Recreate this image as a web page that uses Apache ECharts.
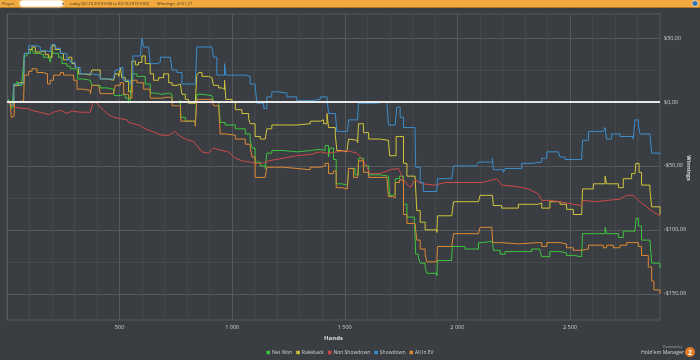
<!DOCTYPE html>
<html>
<head>
<meta charset="utf-8">
<script src="https://cdn.jsdelivr.net/npm/echarts@6/dist/echarts.min.js"></script>
<style>html,body{margin:0;padding:0;background:#3a3d42;}#c{width:700px;height:360px;}</style>
</head>
<body>
<div id="c"></div>
<script>
const seriesNames = ['Net Won', 'Rakeback', 'Non Showdown', 'Showdown', 'All In EV'];
const xTickValues = [500, 1000, 1500, 2000, 2500];
const yLabelValues = [-150, -100, -50, 0, 50];
const yGridValues = [-150, -125, -100, -75, -50, -25, 0, 25, 50];

const netWon = [[0,0],[7,2],[15,-3],[22,-5],[26,3],[30,14],[44,16],[52,13],[66,16],[74,15],[77,36],[89,38],[104,40],[111,42],[118,38],[140,37],[163,35],[185,34],[192,31],[200,40],[207,38],[229,35],[244,30],[266,28],[281,26],[303,25],[314,18],[340,17],[370,16],[377,13],[414,11],[444,10],[473,10],[476,5],[503,6],[525,3],[540,-1],[547,1],[555,22],[577,20],[599,20],[614,14],[636,7],[658,6],[688,7],[718,6],[733,0],[755,1],[770,1],[772,-12],[792,-15],[821,-15],[836,-17],[843,6],[866,5],[910,4],[917,0],[940,-1],[947,-16],[969,-18],[1014,-21],[1058,-25],[1080,-30],[1088,-36],[1102,-47],[1125,-50],[1147,-52],[1154,-40],[1176,-38],[1228,-39],[1287,-38],[1347,-37],[1391,-38],[1413,-34],[1428,-43],[1435,-36],[1450,-45],[1462,-64],[1487,-65],[1512,-66],[1517,-52],[1546,-57],[1561,-44],[1583,-50],[1606,-57],[1657,-58],[1694,-59],[1699,-73],[1714,-72],[1724,-60],[1743,-58],[1761,-80],[1776,-90],[1809,-91],[1815,-119],[1827,-122],[1835,-126],[1857,-129],[1864,-134],[1909,-136],[1912,-124],[1946,-124],[1975,-122],[1978,-113],[2034,-115],[2094,-110],[2108,-109],[2156,-109],[2160,-116],[2190,-119],[2212,-117],[2271,-117],[2330,-115],[2367,-117],[2375,-121],[2411,-117],[2456,-118],[2485,-120],[2515,-121],[2552,-121],[2556,-103],[2604,-103],[2656,-98],[2663,-103],[2715,-106],[2737,-101],[2789,-101],[2793,-91],[2804,-97],[2818,-108],[2855,-108],[2863,-126],[2900,-130]];

const rakeback = [[0,0],[15,-2],[22,-3],[30,13],[52,15],[74,17],[77,38],[96,41],[111,43],[126,39],[148,40],[170,37],[185,35],[192,35],[200,44],[214,41],[237,38],[251,33],[274,35],[288,30],[303,27],[318,22],[340,21],[370,22],[377,25],[399,25],[414,18],[444,17],[473,17],[481,22],[496,20],[503,27],[510,19],[525,16],[540,8],[547,8],[555,32],[570,29],[584,31],[599,36],[614,30],[636,22],[651,17],[673,19],[695,22],[718,15],[733,13],[755,14],[770,14],[777,6],[792,2],[806,-1],[821,-1],[836,-2],[843,21],[851,23],[866,20],[895,19],[910,20],[917,13],[940,11],[955,10],[966,17],[972,2],[999,0],[1014,-6],[1043,-9],[1073,-13],[1080,-17],[1102,-27],[1125,-29],[1147,-30],[1154,-21],[1176,-18],[1228,-18],[1287,-17],[1347,-15],[1391,-14],[1406,-17],[1421,-9],[1428,-20],[1443,-20],[1458,-26],[1465,-38],[1487,-39],[1509,-38],[1517,-29],[1524,-30],[1557,-32],[1561,-17],[1583,-24],[1606,-29],[1657,-30],[1694,-31],[1699,-42],[1714,-42],[1728,-27],[1743,-27],[1761,-48],[1776,-58],[1812,-59],[1820,-85],[1835,-94],[1857,-100],[1909,-102],[1912,-89],[1975,-89],[1983,-78],[2094,-78],[2101,-73],[2156,-72],[2160,-81],[2197,-83],[2271,-80],[2360,-79],[2375,-83],[2411,-78],[2456,-80],[2485,-84],[2515,-88],[2552,-89],[2556,-68],[2604,-64],[2656,-58],[2663,-64],[2715,-67],[2737,-60],[2774,-56],[2789,-57],[2793,-48],[2807,-55],[2818,-65],[2855,-68],[2863,-82],[2900,-88]];

const nonShowdown = [[0,0],[37,-4],[59,-5],[89,-5],[118,-7],[148,-8],[185,-10],[207,-8],[237,-6.5],[266,-9],[288,-7],[325,-8],[370,-8],[382,0],[399,-1],[414,-4],[444,-9],[473,-12],[503,-13],[533,-14],[540,-16],[562,-17],[584,-18],[614,-21],[644,-23],[688,-26],[718,-26],[747,-23],[762,-26],[792,-29],[829,-31],[843,-34],[866,-39],[895,-40],[917,-36],[955,-38],[984,-39],[1014,-44],[1043,-46],[1080,-47],[1102,-48],[1132,-48],[1162,-46],[1228,-44],[1287,-42],[1347,-41],[1391,-39],[1421,-40],[1465,-39],[1509,-38],[1554,-40],[1583,-46],[1613,-56],[1657,-56],[1702,-53],[1739,-52],[1761,-61],[1791,-67],[1798,-68],[1812,-61],[1842,-64],[1901,-65],[1946,-63],[2034,-63],[2108,-63],[2175,-60],[2197,-65],[2256,-66],[2316,-68],[2360,-72],[2375,-77],[2411,-77],[2456,-78],[2515,-80],[2552,-81],[2559,-77],[2619,-78],[2663,-77],[2722,-76],[2752,-73],[2781,-73],[2811,-78],[2841,-82],[2870,-86],[2900,-89]];

const showdown = [[0,0],[15,-2],[30,14],[74,16],[77,38],[96,44],[133,43],[148,40],[177,39],[192,42],[200,45],[214,42],[237,38],[266,33],[281,31],[303,27],[325,22],[370,21],[414,18],[473,18],[481,25],[500,27],[515,17],[547,14],[559,36],[592,37],[599,50],[607,43],[629,43],[636,30],[666,31],[681,35],[725,35],[733,25],[755,23],[777,14],[836,14],[843,43],[910,43],[917,35],[932,21],[957,21],[966,30],[972,21],[1043,21],[1058,20],[1080,14],[1102,12],[1110,-1],[1140,-5],[1154,4],[1176,8],[1199,7],[1243,4],[1287,1],[1347,2],[1391,4],[1421,5],[1428,-9],[1458,-8],[1465,-23],[1512,-23],[1517,-14],[1557,-14],[1561,-1],[1613,-1],[1635,0],[1687,-1],[1694,-18],[1724,-17],[1731,-4],[1746,-12],[1761,-20],[1812,-22],[1815,-51],[1835,-63],[1849,-70],[1909,-70],[1912,-60],[1975,-60],[1983,-50],[2086,-51],[2094,-47],[2156,-44],[2160,-53],[2205,-55],[2212,-52],[2286,-48],[2330,-47],[2375,-44],[2397,-39],[2448,-39],[2456,-43],[2478,-45],[2552,-46],[2556,-30],[2582,-23],[2648,-22],[2656,-20],[2663,-29],[2685,-25],[2722,-27],[2781,-29],[2789,-14],[2804,-18],[2811,-25],[2855,-26],[2863,-40],[2900,-41]];

const allInEV = [[0,0],[15,-3],[19,-12],[26,-11],[32,0],[52,1],[74,3],[77,21],[96,24],[111,26],[133,23],[163,22],[180,14],[192,17],[207,21],[237,23],[251,21],[281,21],[296,17],[311,10],[340,9],[370,6.5],[377,13],[407,12],[414,6.5],[473,6],[481,13],[503,15],[518,6],[540,3],[555,17],[577,15],[584,15],[607,10],[636,3],[688,4],[718,3],[733,-3],[770,-2],[772,-15],[836,-19],[843,2],[910,1],[917,-3],[940,-5],[947,-25],[969,-26],[1014,-29],[1058,-33],[1080,-35],[1088,-43],[1102,-59],[1147,-60],[1154,-51],[1228,-52],[1287,-53],[1347,-51],[1391,-50],[1413,-48],[1428,-56],[1450,-54],[1462,-67],[1487,-68],[1512,-69],[1517,-52],[1539,-59],[1557,-59],[1561,-46],[1583,-55],[1606,-59],[1687,-60],[1694,-74],[1714,-75],[1724,-63],[1743,-61],[1761,-88],[1776,-95],[1812,-96],[1820,-108],[1835,-115],[1857,-119],[1864,-125],[1909,-125],[1912,-113],[1975,-113],[1983,-103],[2094,-103],[2101,-98],[2153,-98],[2157,-110],[2197,-111],[2271,-110],[2360,-110],[2375,-113],[2397,-110],[2456,-111],[2485,-114],[2515,-116],[2552,-117],[2556,-115],[2582,-112],[2648,-114],[2663,-112],[2693,-114],[2722,-112],[2752,-110],[2781,-110],[2804,-113],[2818,-120],[2848,-129],[2863,-140],[2873,-147],[2900,-150]];

const seriesData = [netWon, rakeback, nonShowdown, showdown, allInEV];
const colors = ['#3cc63c', '#d2c63c', '#cc4a4a', '#3a8ecc', '#de8a34'];
const stepped = [true, true, false, true, true];

function fmtHands(v) {
  return String(v).replace(/\B(?=(\d{3})+(?!\d))/g, ' ');
}
function fmtMoney(v) {
  return (v < 0 ? '-$' : '$') + Math.abs(v) + ',00';
}

const chart = echarts.init(document.getElementById('c'));
const font = 'Open Sans, DejaVu Sans, sans-serif';

const series = seriesNames.map((name, i) => {
  const s = {
    name: name,
    type: 'line',
    data: seriesData[i],
    showSymbol: false,
    symbol: 'none',
    step: stepped[i] ? 'end' : false,
    lineStyle: { width: 1, color: colors[i] },
    itemStyle: { color: colors[i] },
    z: 3,
    animation: false
  };
  if (i === 0) {
    s.markLine = {
      silent: true,
      symbol: 'none',
      label: { show: false },
      lineStyle: { color: '#e8e8e8', width: 2, type: 'solid' },
      data: [{ yAxis: 0 }],
      animation: false
    };
  }
  return s;
});

chart.setOption({
  backgroundColor: '#3a3d42',
  animation: false,
  color: colors,
  grid: {
    left: 7, right: 40, top: 14, bottom: 40,
    outerBoundsMode: 'none',
    containLabel: false,
    show: true, borderColor: '#56595e', borderWidth: 1, backgroundColor: 'transparent'
  },
  xAxis: {
    type: 'value',
    min: 0, max: 2900, interval: 100,
    name: 'Hands',
    nameLocation: 'middle',
    nameGap: 15,
    nameTextStyle: { color: '#dcdcdc', fontSize: 6, fontWeight: 'bold', fontFamily: font },
    axisLine: { show: false },
    axisTick: { show: false },
    axisLabel: {
      color: '#cfcfcf', fontSize: 5.5, fontFamily: font, margin: 4,
      formatter: v => (xTickValues.indexOf(v) >= 0 ? fmtHands(v) : '')
    },
    splitLine: {
      show: true,
      lineStyle: { color: ['#55585d', '#45484d', '#45484d', '#45484d', '#45484d'], width: 1 }
    }
  },
  yAxis: {
    type: 'value',
    position: 'right',
    min: -170.5, max: 68.8,
    axisLine: { show: false },
    axisTick: { show: false, customValues: yGridValues },
    axisLabel: {
      customValues: yLabelValues,
      color: '#cfcfcf', fontSize: 5.5, fontFamily: font, margin: 4,
      formatter: v => fmtMoney(v)
    },
    splitLine: {
      show: true,
      lineStyle: { color: ['#55585d', '#45484d'], width: 1 }
    }
  },
  legend: {
    bottom: 0,
    left: 'center',
    data: seriesNames,
    icon: 'rect',
    itemWidth: 3.5,
    itemHeight: 3.5,
    itemGap: 4,
    textStyle: { color: '#d0d0d0', fontSize: 5, fontFamily: font, padding: [0, 0, 0, -3] }
  },
  graphic: [
    { type: 'rect', shape: { x: 0, y: 0, width: 700, height: 7 }, style: { fill: '#f2aa3e' }, silent: true },
    { type: 'rect', shape: { x: 0, y: 7, width: 700, height: 1 }, style: { fill: '#b47a2a' }, silent: true },
    { type: 'text', x: 2, y: 3.6, style: { text: 'Player:', fontSize: 4, fill: '#3a3020', fontFamily: font, verticalAlign: 'middle' } },
    { type: 'rect', shape: { x: 20, y: 0.5, width: 43, height: 6, r: 3 }, style: { fill: '#ffffff', shadowBlur: 3, shadowColor: '#ffffff' }, silent: true },
    { type: 'text', x: 62, y: 3.6, style: { text: '▾', fontSize: 4, fill: '#555', fontFamily: font, verticalAlign: 'middle' } },
    { type: 'text', x: 70, y: 3.6, style: { text: 'today [02.10.2013 0:00 to 03.10.2013 0:00]', fontSize: 4, fill: '#3a3020', fontFamily: font, verticalAlign: 'middle' } },
    { type: 'text', x: 157, y: 3.6, style: { text: 'Winnings: -$151,21', fontSize: 4, fill: '#3a3020', fontFamily: font, verticalAlign: 'middle' } },
    { type: 'circle', shape: { cx: 695, cy: 3.5, r: 2.8 }, style: { fill: '#2c6fb8', stroke: '#ffffff', lineWidth: 0.5 } },
    { type: 'text', x: 689, y: 168, rotation: -Math.PI / 2, style: { text: 'Winnings', fontSize: 5.5, fontWeight: 'bold', fill: '#dcdcdc', fontFamily: font, align: 'center', verticalAlign: 'middle' } },
    { type: 'text', x: 663, y: 346.5, style: { text: 'Powered by', fontSize: 3.5, fill: '#a8a8a8', fontFamily: font, verticalAlign: 'middle' } },
    { type: 'text', x: 641, y: 352.5, style: { text: "Hold'em Manager", fontSize: 5.2, fill: '#d2d2d2', fontFamily: font, verticalAlign: 'middle' } },
    { type: 'circle', shape: { cx: 690, cy: 352, r: 5 }, style: { fill: '#e07a26' } },
    { type: 'text', x: 690, y: 352.5, style: { text: '2', fontSize: 7, fontWeight: 'bold', fill: '#ffffff', fontFamily: font, align: 'center', verticalAlign: 'middle' } }
  ],
  series: series
});
</script>
</body>
</html>
